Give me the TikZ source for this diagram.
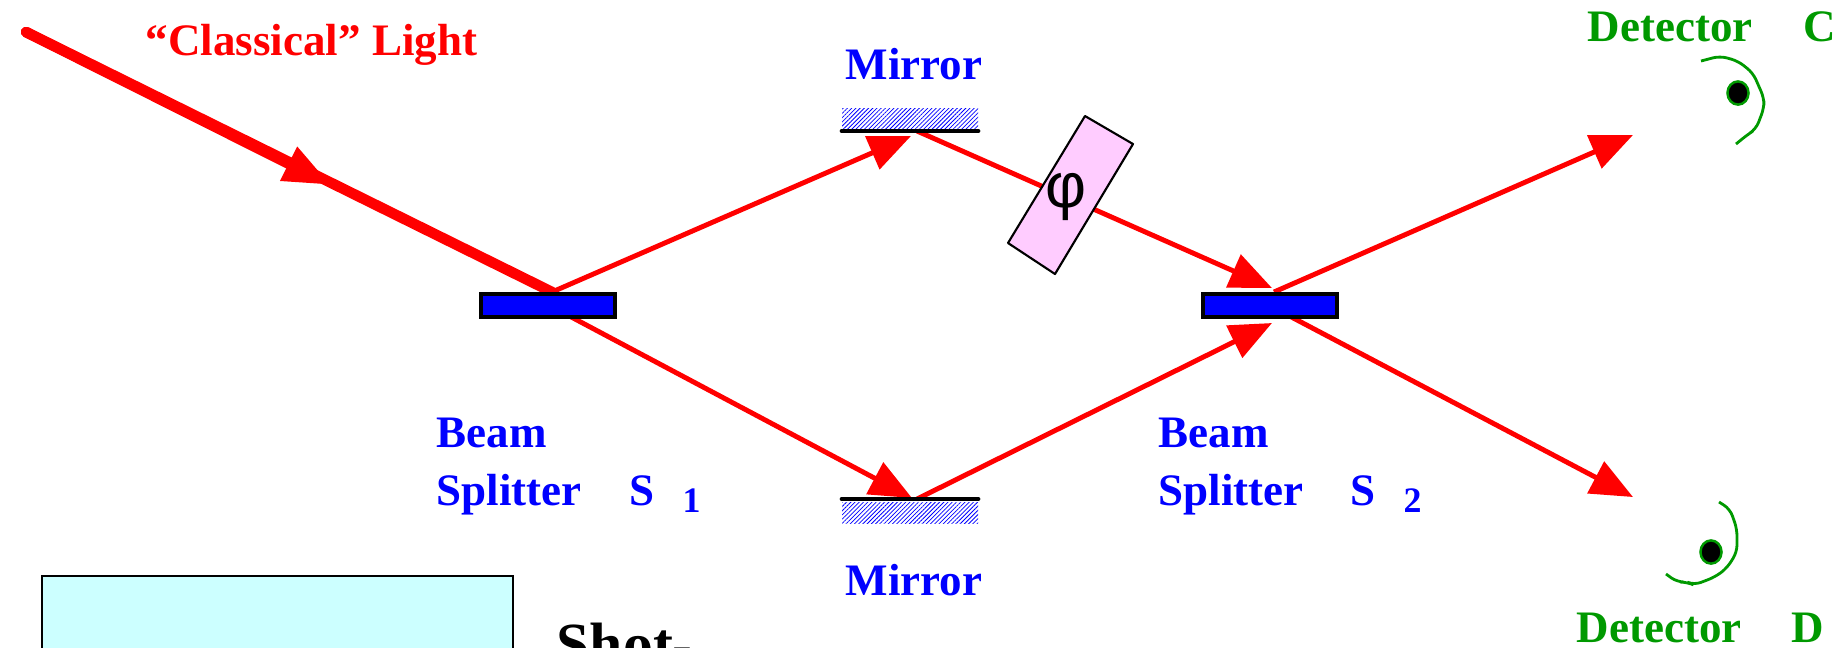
\documentclass[tikz,border=0pt]{standalone}
\usepackage{fontspec}
\usepackage{xcolor}
\setmainfont{Liberation Serif}
\newfontfamily\phasefont{Liberation Sans}
\usetikzlibrary{arrows.meta,patterns.meta,shapes.geometric}
\definecolor{BeamRed}{RGB}{255,0,0}
\definecolor{LabelBlue}{RGB}{0,0,255}
\definecolor{DetGreen}{RGB}{0,153,0}
\definecolor{BoxCyan}{RGB}{204,255,255}
\definecolor{PlatePink}{RGB}{255,204,255}
\tikzset{
  ray/.style={BeamRed,line width=1.4pt,-{Triangle[length=12pt,width=10pt]}},
  thickray/.style={BeamRed,line width=3pt,line cap=round},
  label/.style={inner sep=0pt,anchor=base west,font=\fontsize{12.8}{15}\selectfont\bfseries},
  sublabel/.style={inner sep=0pt,anchor=base west,font=\fontsize{10.2}{12}\selectfont\bfseries,text=LabelBlue},
  splitter/.style={draw=black,fill=LabelBlue,line width=1.3pt,minimum width=38pt,minimum height=6.5pt,inner sep=0pt},
  mirrorline/.style={black,line width=1.35pt,line cap=round},
  mirrorhatch/.style={pattern={Lines[angle=45,distance=.85pt,line width=.22pt]},pattern color=LabelBlue},
  eye/.style={draw=DetGreen,fill=black,line width=.7pt,ellipse,minimum width=6pt,minimum height=6.6pt,inner sep=0pt},
  detcurve/.style={DetGreen,line width=.8pt,rounded corners=2pt}
}
\begin{document}
\begin{tikzpicture}[x=0.01cm,y=-0.01cm]
  \useasboundingbox (0,0) rectangle (1848,647);
  \clip (0,0) rectangle (1848,647);
  % Ray end points
  \coordinate (BeamIn) at (26,32);
  \coordinate (BeamHead) at (331,185);
  \coordinate (HitA) at (552,292);
  \coordinate (ExitA) at (560,311);
  \coordinate (TopHit) at (911,136);
  \coordinate (TopOut) at (917,131);
  \coordinate (BotHit) at (912,498);
  \coordinate (BotOut) at (917,499);
  \coordinate (HitB) at (1272,288);
  \coordinate (HitBlow) at (1272,323);
  \coordinate (OutB) at (1274,292);
  \coordinate (ExitB) at (1280,311);
  \coordinate (ToC) at (1633,135);
  \coordinate (ToD) at (1633,497);
  % Beams
  \draw[thickray] (BeamIn) -- (HitA);
  \draw[thickray,-{Triangle[length=13.5pt,width=10pt]}] (BeamIn) -- (BeamHead);
  \draw[ray] (HitA) -- (TopHit);
  \draw[ray] (ExitA) -- (BotHit);
  \draw[ray] (TopOut) -- (HitB);
  \draw[ray] (BotOut) -- (HitBlow);
  \draw[ray] (OutB) -- (ToC);
  \draw[ray] (ExitB) -- (ToD);
  % Beam splitters
  \node[splitter] (SplitA) at (548,305.5) {};
  \node[splitter] (SplitB) at (1270,305.5) {};
  % Mirrors
  \fill[mirrorhatch] (842,108) rectangle (978,128);
  \draw[mirrorline] (842,131) -- (978,131);
  \fill[mirrorhatch] (842,502) rectangle (978,523);
  \draw[mirrorline] (842,499) -- (978,499);
  % Phase plate
  \draw[fill=PlatePink,line width=.6pt,line join=round] (1085,116) -- (1133,144) -- (1055,274) -- (1008,243) -- cycle;
  \node[inner sep=0pt,font=\phasefont\fontsize{18}{20}\selectfont] (PhaseLabel) at (1066,197) {φ};
  % Detectors
  \draw[detcurve] (1701,61) -- (1720,56) -- (1738,61) -- (1753,73) -- (1764,98) -- (1764,108) -- (1756,129) -- (1747,135) -- (1736,144);
  \node[eye] (EyeC) at (1738,93) {};
  \draw[detcurve] (1719,502) -- (1730,509) -- (1737,529) -- (1737,552) -- (1727,568) -- (1715,577) -- (1694,585) -- (1687,582) -- (1677,582) -- (1666,574);
  \node[eye] (EyeD) at (1711,552) {};
  % Shot noise box
  \draw[fill=BoxCyan,line width=.6pt] (42,576) rectangle (513,670);
  \node[inner sep=0pt,anchor=base west,font=\fontsize{17}{20}\selectfont\bfseries] (ShotLabel) at (556,664) {Shot-};
  % Labels
  \node[label,text=BeamRed] (LightLabel) at (145,55) {“Classical” Light};
  \node[label,text=LabelBlue] (MirrorTop) at (845,79) {Mirror};
  \node[label,text=LabelBlue] (MirrorBot) at (845,595) {Mirror};
  \node[label,text=LabelBlue] (BeamA) at (436,447) {Beam};
  \node[label,text=LabelBlue] (SplitterA) at (436,505) {Splitter};
  \node[label,text=LabelBlue] (NameA) at (629,505) {S};
  \node[sublabel] (IndexA) at (682,512) {1};
  \node[label,text=LabelBlue] (BeamB) at (1158,447) {Beam};
  \node[label,text=LabelBlue] (SplitterB) at (1158,505) {Splitter};
  \node[label,text=LabelBlue] (NameB) at (1350,505) {S};
  \node[sublabel] (IndexB) at (1403,512) {2};
  \node[label,text=DetGreen] (DetC) at (1587,41) {Detector};
  \node[label,text=DetGreen] (NameC) at (1803,41) {C};
  \node[label,text=DetGreen] (DetD) at (1576,642) {Detector};
  \node[label,text=DetGreen] (NameD) at (1791,642) {D};
\end{tikzpicture}
\end{document}
